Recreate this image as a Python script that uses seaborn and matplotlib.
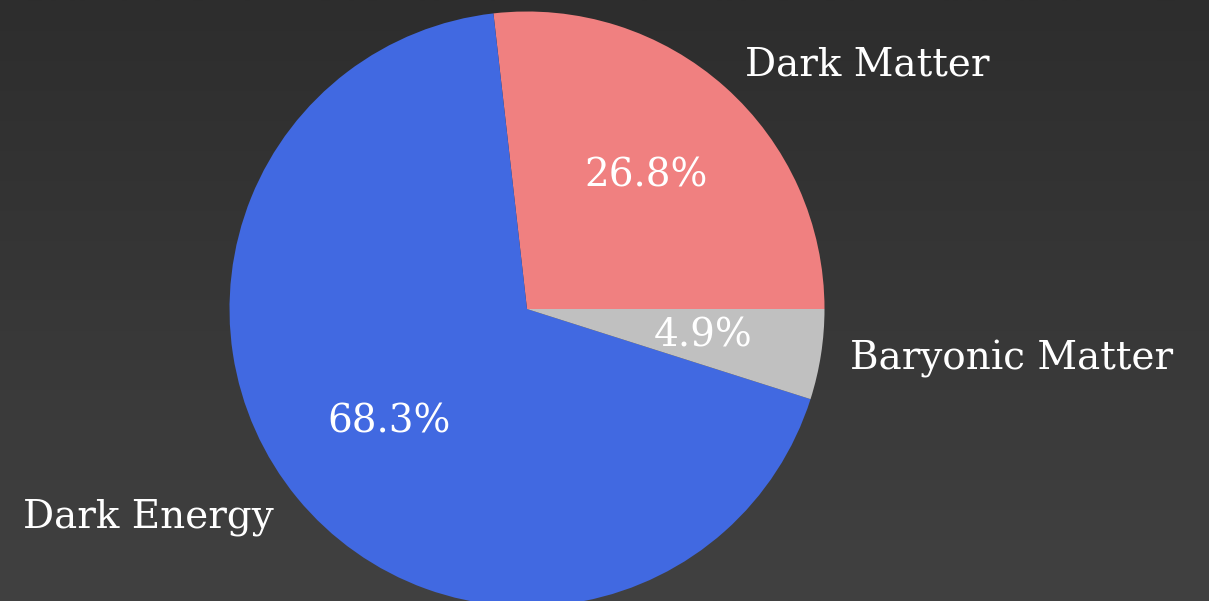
import numpy as np
import matplotlib
matplotlib.use("Agg")
import matplotlib.pyplot as plt
import seaborn as sns

# Composition of the universe
components = ["Dark Matter", "Dark Energy", "Baryonic Matter"]
shares = [26.8, 68.3, 4.9]
slice_colors = ["lightcoral", "royalblue", "silver"]

sns.set_theme(style="dark")
plt.rcParams["font.family"] = ["DejaVu Serif"]

W, H = 1209, 601
fig = plt.figure(figsize=(W / 100, H / 100), dpi=100)

# Dark vertical gradient background
bg = fig.add_axes([0, 0, 1, 1], zorder=0)
grad = np.linspace(0, 1, 256).reshape(-1, 1)
cmap = matplotlib.colors.LinearSegmentedColormap.from_list("bg", ["#2d2d2d", "#414141"])
bg.imshow(grad, aspect="auto", cmap=cmap, extent=[0, 1, 0, 1], origin="upper")
bg.set_axis_off()

# Pie axes placed so the circle is centred at (527, 309) px with radius ~297 px
cx, cy, r = 527, 309, 297.5
ax = fig.add_axes([(cx - r) / W, (H - cy - r) / H, 2 * r / W, 2 * r / H], zorder=1)
ax.set_facecolor("none")
wedges, texts, autotexts = ax.pie(
    shares,
    labels=components,
    colors=slice_colors,
    autopct="%1.1f%%",
    startangle=0,
    wedgeprops={"linewidth": 0, "edgecolor": "none"},
    textprops={"color": "white", "fontsize": 28},
)
for t in texts + autotexts:
    t.set_clip_on(False)
ax.set_xlim(-1, 1)
ax.set_ylim(-1, 1)
ax.set_aspect("equal")
ax.set_axis_off()

fig.savefig("out.png", dpi=100)
